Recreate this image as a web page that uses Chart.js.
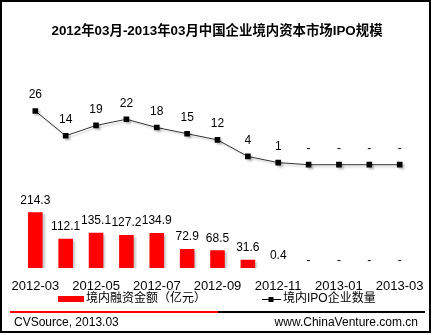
<!DOCTYPE html>
<html>
<head>
<meta charset="utf-8">
<script src="https://cdn.jsdelivr.net/npm/chart.js@4.4.1/dist/chart.umd.min.js"></script>
<style>
  body { margin: 0; background: #fff; }
</style>
</head>
<body>
<canvas id="ipoChart" width="435" height="335"></canvas>
<script>
// data
const months = [
  "2012-03", "2012-04", "2012-05", "2012-06", "2012-07", "2012-08", "2012-09",
  "2012-10", "2012-11", "2012-12", "2013-01", "2013-02", "2013-03",
];
const amounts = [214.3, 112.1, 135.1, 127.2, 134.9, 72.9, 68.5, 31.6, 0.4, 0, 0, 0, 0];
const counts = [26, 14, 19, 22, 18, 15, 12, 4, 1, 0, 0, 0, 0];
const titleText = "2012年03月-2013年03月中国企业境内资本市场IPO规模";
const amountLabel = "境内融资金额（亿元）";
const countLabel = "境内IPO企业数量";
const sourceText = "CVSource, 2013.03";
const siteText = "www.ChinaVenture.com.cn";

const FONT = '"Liberation Sans", "Noto Sans CJK SC", sans-serif';

const fmt = (v, isBar) => {
  if (v === 0) return "-";
  return isBar ? v.toFixed(1) : String(v);
};

// soft shadow like the original office chart
const shadowPlugin = {
  id: "shadow",
  beforeDatasetDraw(chart) {
    const ctx = chart.ctx;
    ctx.save();
    ctx.shadowColor = "rgba(0,0,0,0.22)";
    ctx.shadowOffsetX = 2;
    ctx.shadowOffsetY = 2;
    ctx.shadowBlur = 2;
  },
  afterDatasetDraw(chart) {
    chart.ctx.restore();
  },
};

const valueLabels = {
  id: "valueLabels",
  afterDatasetsDraw(chart) {
    const ctx = chart.ctx;
    ctx.save();
    ctx.font = "12px " + FONT;
    ctx.fillStyle = "#000";
    ctx.textAlign = "center";
    ctx.textBaseline = "middle";
    chart.data.datasets.forEach((ds, i) => {
      const meta = chart.getDatasetMeta(i);
      const isBar = ds.type === "bar";
      meta.data.forEach((el, j) => {
        const v = ds.data[j];
        let off = isBar ? 12 : 16;
        if (isBar && v === 0) off = 7;
        ctx.fillText(fmt(v, isBar), el.x, el.y - off);
      });
    });
    ctx.restore();
  },
};

const decor = {
  id: "decor",
  afterDraw(chart) {
    const ctx = chart.ctx;
    ctx.save();
    // frame
    ctx.strokeStyle = "#000";
    ctx.lineWidth = 2;
    ctx.strokeRect(1, 1, 429, 331);
    // title
    ctx.fillStyle = "#000";
    ctx.font = "bold 13.4px " + FONT;
    ctx.textAlign = "center";
    ctx.textBaseline = "middle";
    ctx.fillText(titleText, 217, 31);
    // legend
    ctx.font = "12px " + FONT;
    ctx.textAlign = "left";
    ctx.fillStyle = "#ff0000";
    ctx.fillRect(58, 296, 26, 6);
    ctx.fillStyle = "#000";
    ctx.fillText(amountLabel, 86, 299);
    ctx.lineWidth = 1;
    ctx.beginPath();
    ctx.moveTo(262, 299.5);
    ctx.lineTo(281, 299.5);
    ctx.stroke();
    ctx.fillRect(268.5, 297, 5, 5);
    ctx.fillText(countLabel, 283, 299);
    // footer rule
    ctx.lineWidth = 2;
    ctx.strokeStyle = "#ff0000";
    ctx.beginPath();
    ctx.moveTo(10, 312);
    ctx.lineTo(218, 312);
    ctx.stroke();
    ctx.strokeStyle = "#000";
    ctx.beginPath();
    ctx.moveTo(218, 312);
    ctx.lineTo(425, 312);
    ctx.stroke();
    // footer text
    ctx.fillText(sourceText, 14, 323);
    ctx.textAlign = "right";
    ctx.fillText(siteText, 418, 323);
    ctx.restore();
  },
};

new Chart(document.getElementById("ipoChart"), {
  data: {
    labels: months,
    datasets: [
      {
        type: "line",
        label: countLabel,
        data: counts,
        yAxisID: "y1",
        borderColor: "#333",
        borderWidth: 1,
        pointStyle: "rect",
        pointRadius: 4,
        pointBackgroundColor: "#000",
        pointBorderColor: "#000",
        pointBorderWidth: 0,
        tension: 0,
        order: 1,
      },
      {
        type: "bar",
        label: amountLabel,
        data: amounts,
        yAxisID: "y",
        backgroundColor: "#ff0000",
        barPercentage: 0.48,
        categoryPercentage: 1,
        order: 2,
      },
    ],
  },
  options: {
    responsive: false,
    animation: false,
    layout: { padding: { left: 15, right: 17, top: 80, bottom: 37 } },
    plugins: {
      legend: { display: false },
      title: { display: false },
      tooltip: { enabled: false },
    },
    scales: {
      x: {
        offset: true,
        grid: { display: false, drawTicks: false },
        border: { display: false },
        ticks: {
          color: "#000",
          font: { family: FONT, size: 13 },
          padding: 11,
          maxRotation: 0,
          autoSkip: false,
          callback: (v, i) => (i % 2 === 0 ? months[i] : ""),
        },
        afterFit: (s) => { s.height = 30; },
      },
      y: { display: false, min: 0, max: 723 },
      y1: { display: false, min: -50, max: 41 },
    },
  },
  plugins: [shadowPlugin, valueLabels, decor],
});
</script>
</body>
</html>
